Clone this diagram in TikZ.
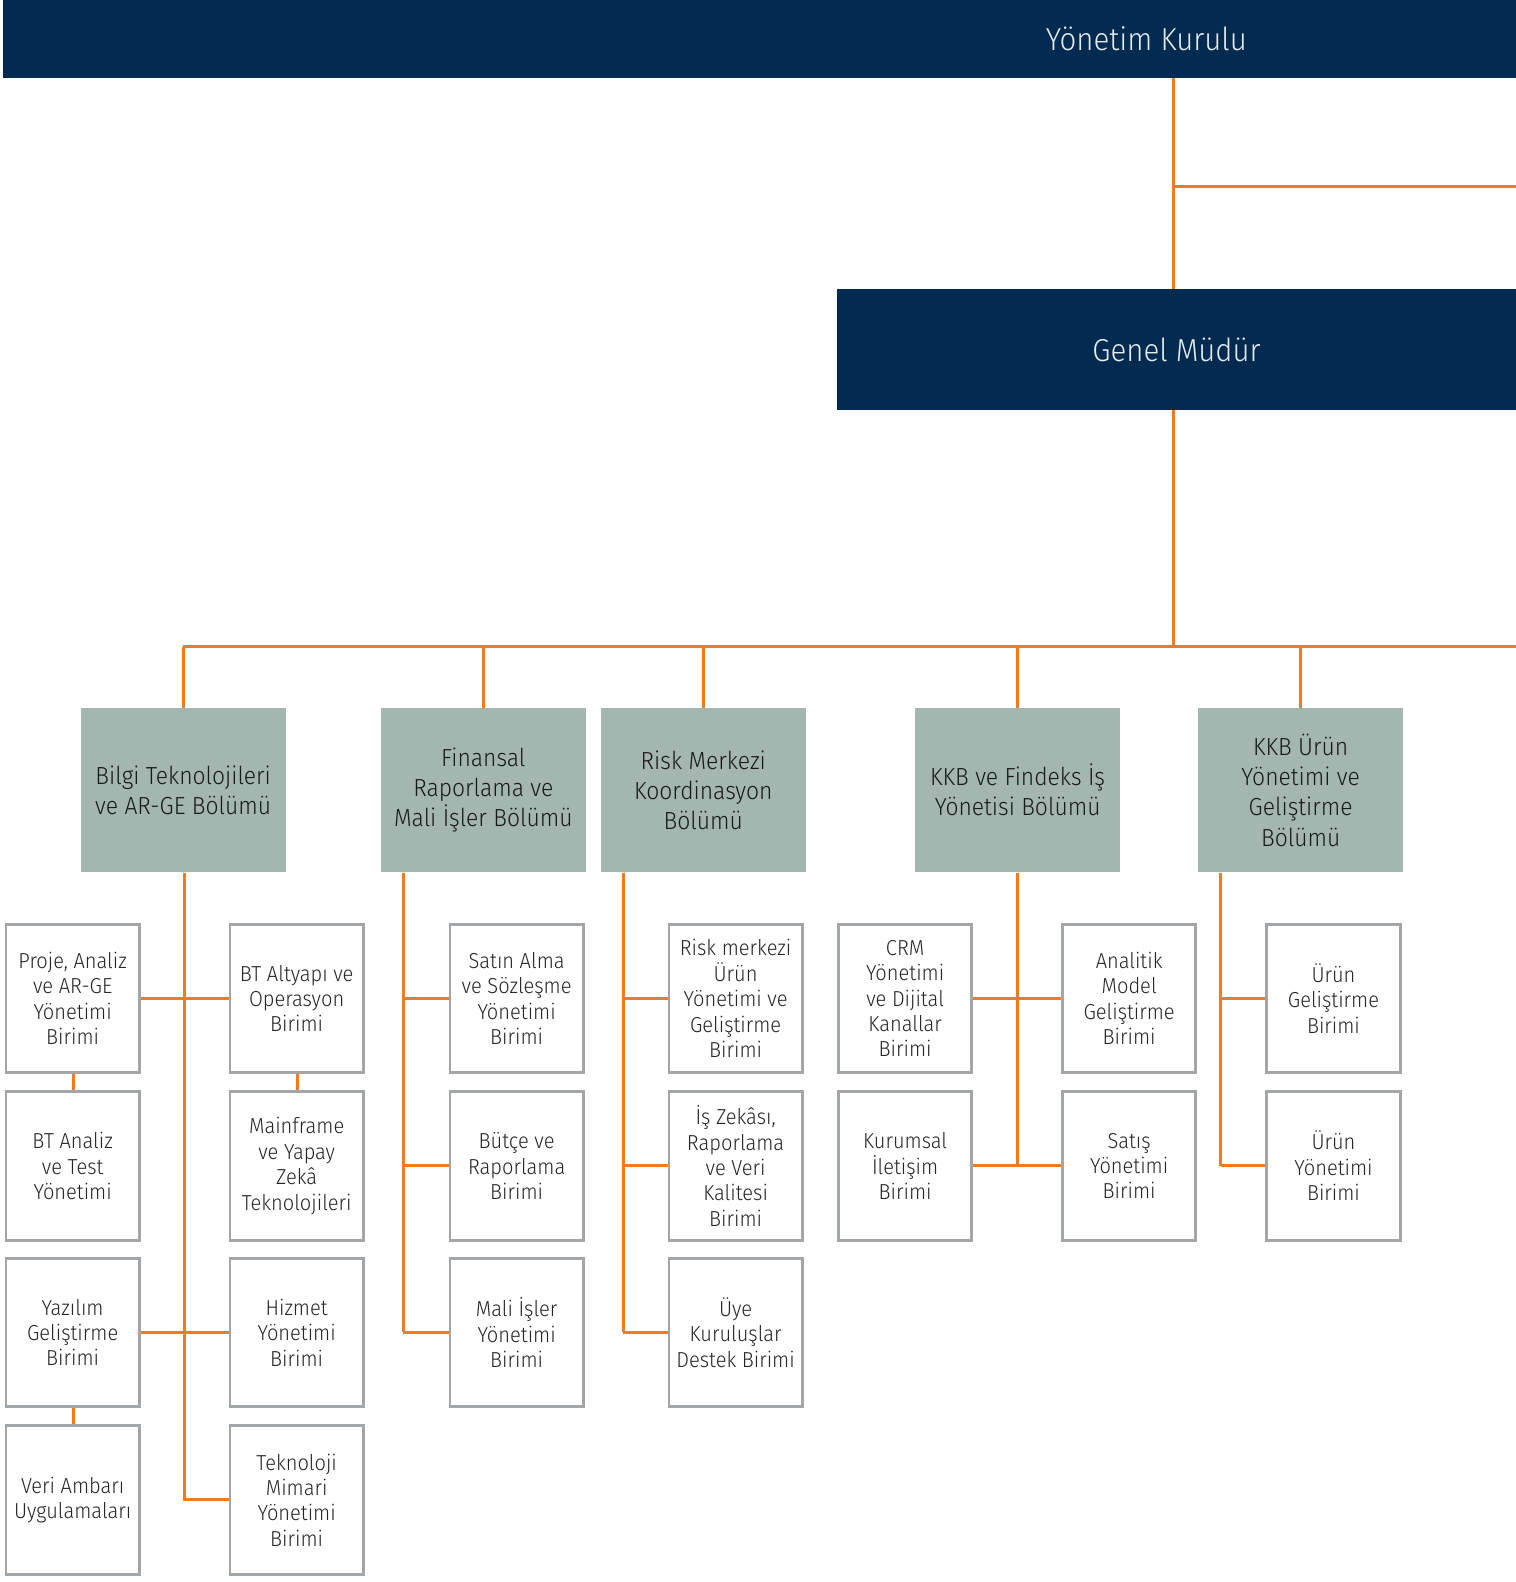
\documentclass[tikz,border=0pt]{standalone}
\usepackage{fontspec}
\setmainfont{Fira Sans Light}[FakeStretch=0.925]
\definecolor{navy}{HTML}{002A4F}
\definecolor{sage}{HTML}{A3B7B0}
\definecolor{orng}{HTML}{F47B20}
\definecolor{bordergray}{HTML}{A2A6A8}
\definecolor{unittext}{HTML}{262626}
\definecolor{headtext}{HTML}{E6ECF1}
\tikzset{
  bar/.style={fill=navy, draw=none, inner sep=0pt},
  bartext/.style={text=headtext, font=\fontsize{31.5}{36}\selectfont, inner sep=0pt},
  bolum/.style={fill=sage, draw=none, minimum width=203, minimum height=163, inner sep=0pt, align=center, text=black!90, font=\fontsize{24.5}{30}\selectfont},
  unit/.style={draw=bordergray, line width=2.8pt, fill=white, minimum width=132, minimum height=147, inner sep=0pt, align=center, text=unittext, font=\fontsize{21.5}{25.2}\selectfont},
  conn/.style={draw=orng, line width=3pt},
}
\begin{document}
\begin{tikzpicture}[x=1pt,y=-1pt]
\useasboundingbox (0,0) rectangle (1502.3,1567.8);
% top bars
\node[bar, minimum width=1500, minimum height=77] (yk) at (753,38.5) {};
\node[bartext] (ykt) at (1136,38.3) {Yönetim Kurulu};
\node[bar, minimum width=674, minimum height=120, text=headtext, font=\fontsize{31.5}{36}\selectfont] (gm) at (1166,346.5) {Genel Müdür};
\coordinate (t) at (1163,185);
\coordinate (r1) at (1503,185);
\coordinate (bus) at (1163,641);
\coordinate (busR) at (1503,641);
% departments
\node[bolum] (bt) at (181.5,783) {Bilgi Teknolojileri\\ve AR-GE Bölümü};
\node[bolum] (fr) at (479,783) {Finansal\\Raporlama ve\\Mali İşler Bölümü};
\node[bolum] (rm) at (697,783) {Risk Merkezi\\Koordinasyon\\Bölümü};
\node[bolum] (kf) at (1008.5,783) {KKB ve Findeks İş\\Yönetisi Bölümü};
\node[bolum] (ku) at (1289,783) {KKB Ürün\\Yönetimi ve\\Geliştirme\\Bölümü};
% units
\node[unit] (a1) at (72,989.5) {Proje, Analiz\\ve AR-GE\\Yönetimi\\Birimi};
\node[unit] (a2) at (72,1155.5) {BT Analiz\\ve Test\\Yönetimi};
\node[unit] (a3) at (72,1320.5) {Yazılım\\Geliştirme\\Birimi};
\node[unit] (a4) at (72,1486.5) {Veri Ambarı\\Uygulamaları};
\node[unit] (b1) at (294,989.5) {BT Altyapı ve\\Operasyon\\Birimi};
\node[unit] (b2) at (294,1155.5) {Mainframe\\ve Yapay\\Zekâ\\Teknolojileri};
\node[unit] (b3) at (294,1320.5) {Hizmet\\Yönetimi\\Birimi};
\node[unit] (b4) at (294,1486.5) {Teknoloji\\Mimari\\Yönetimi\\Birimi};
\node[unit] (c1) at (512,989.5) {Satın Alma\\ve Sözleşme\\Yönetimi\\Birimi};
\node[unit] (c2) at (512,1155.5) {Bütçe ve\\Raporlama\\Birimi};
\node[unit] (c3) at (512,1320.5) {Mali İşler\\Yönetimi\\Birimi};
\node[unit] (d1) at (729,989.5) {Risk merkezi\\Ürün\\Yönetimi ve\\Geliştirme\\Birimi};
\node[unit] (d2) at (729,1155.5) {İş Zekâsı,\\Raporlama\\ve Veri\\Kalitesi\\Birimi};
\node[unit] (d3) at (729,1320.5) {Üye\\Kuruluşlar\\Destek Birimi};
\node[unit] (e1) at (897,989.5) {CRM\\Yönetimi\\ve Dijital\\Kanallar\\Birimi};
\node[unit] (e2) at (897,1155.5) {Kurumsal\\İletişim\\Birimi};
\node[unit] (f1) at (1119,989.5) {Analitik\\Model\\Geliştirme\\Birimi};
\node[unit] (f2) at (1119,1155.5) {Satış\\Yönetimi\\Birimi};
\node[unit] (g1) at (1321.5,989.5) {Ürün\\Geliştirme\\Birimi};
\node[unit] (g2) at (1321.5,1155.5) {Ürün\\Yönetimi\\Birimi};
% top connectors
\draw[conn] (yk.south -| t) -- (gm.north -| t);
\draw[conn] (t) -- (r1);
\draw[conn] (gm.south -| t) -- (bus);
\draw[conn] (bt.north |- bus) -- (busR);
\foreach \n in {bt,fr,rm,kf,ku} \draw[conn] (\n.north) -- (\n.north |- bus);
% BT
\coordinate (btv) at ([xshift=1.5pt]bt.south);
\draw[conn] (btv) -- (btv |- b4.west) -- (b4.west);
\draw[conn] (a1.east) -- (b1.west);
\draw[conn] (a3.east) -- (b3.west);
\draw[conn] ([xshift=1pt]a1.south) -- ([xshift=1pt]a2.north);
\draw[conn] ([xshift=1pt]b1.south) -- ([xshift=1pt]b2.north);
\draw[conn] ([xshift=1pt]a3.south) -- ([xshift=1pt]a4.north);
% Finansal
\coordinate (frv) at ([xshift=22.5pt]fr.south west);
\draw[conn] (frv) -- (frv |- c3.west);
\foreach \r in {c1,c2,c3} \draw[conn] (frv |- \r.west) -- (\r.west);
% Risk
\coordinate (rmv) at ([xshift=22.5pt]rm.south west);
\draw[conn] (rmv) -- (rmv |- d3.west);
\foreach \r in {d1,d2,d3} \draw[conn] (rmv |- \r.west) -- (\r.west);
% KKB Findeks
\draw[conn] (kf.south) -- (kf.south |- e2.east);
\draw[conn] (e1.east) -- (f1.west);
\draw[conn] (e2.east) -- (f2.west);
% KKB Urun
\coordinate (kuv) at ([xshift=22.5pt]ku.south west);
\draw[conn] (kuv) -- (kuv |- g2.west);
\foreach \r in {g1,g2} \draw[conn] (kuv |- \r.west) -- (\r.west);
\end{tikzpicture}
\end{document}
